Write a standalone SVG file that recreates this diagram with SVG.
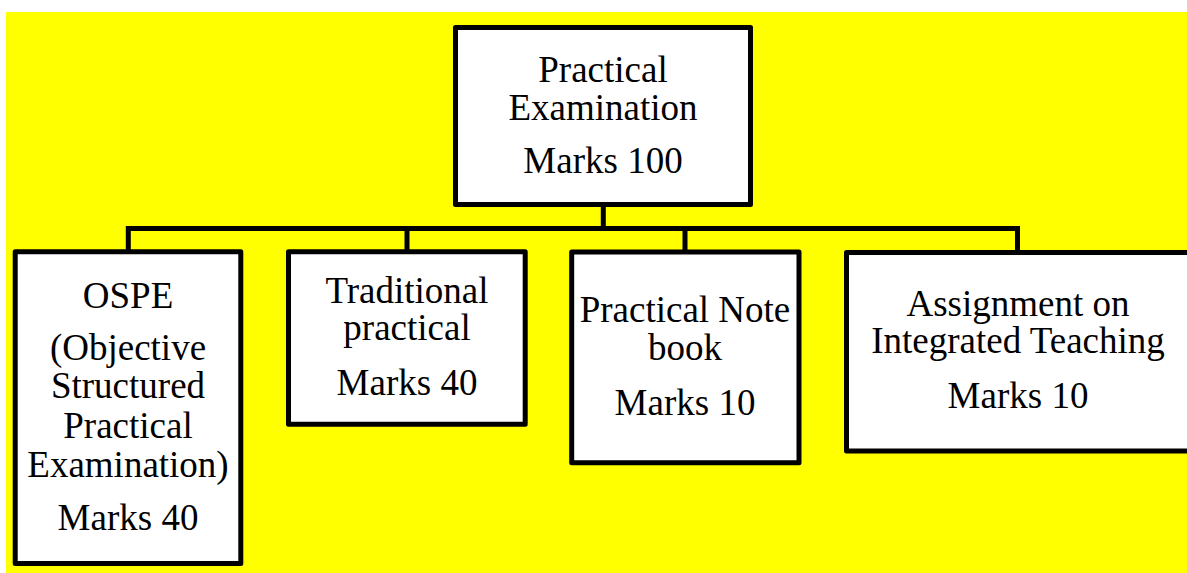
<svg xmlns="http://www.w3.org/2000/svg" width="1187" height="573" viewBox="0 0 1187 573">
<style>
.box{fill:#fff;stroke:#000;stroke-width:5;stroke-linejoin:round}
.conn{fill:none;stroke:#000;stroke-width:5;stroke-linejoin:miter}
.t{font-family:'Liberation Serif','Times New Roman',serif;font-size:37px;fill:#000;text-anchor:middle}
</style>
<rect x="6" y="12" width="1181" height="561" fill="#ffff00"/>
<g id="connectors">
<path class="conn" d="M603.3,206 V228.5"/>
<path class="conn" d="M128.3,251 V228.5 H1017.5 V251"/>
<path class="conn" d="M407,228.5 V251"/>
<path class="conn" d="M685,228.5 V251"/>
</g>
<g id="node-root" class="t">
<rect class="box" x="455.5" y="27.5" width="295" height="177"/>
<text x="603" y="82">Practical</text>
<text x="603" y="120">Examination</text>
<text x="603" y="173">Marks 100</text>
</g>
<g id="node-ospe" class="t">
<rect class="box" x="15.2" y="251.7" width="225.6" height="311.8"/>
<text x="128" y="308">OSPE</text>
<text x="128" y="360">(Objective</text>
<text x="128" y="398">Structured</text>
<text x="128" y="438">Practical</text>
<text x="128" y="477">Examination)</text>
<text x="128" y="530">Marks 40</text>
</g>
<g id="node-traditional" class="t">
<rect class="box" x="288.5" y="251.8" width="236.7" height="172.4"/>
<text x="407" y="303">Traditional</text>
<text x="407" y="340">practical</text>
<text x="407" y="395">Marks 40</text>
</g>
<g id="node-notebook" class="t">
<rect class="box" x="571.7" y="252" width="227.3" height="210.8"/>
<text x="685" y="322">Practical Note</text>
<text x="685" y="360">book</text>
<text x="685" y="415">Marks 10</text>
</g>
<g id="node-assignment" class="t">
<rect class="box" x="846.5" y="252.5" width="400" height="198.5"/>
<text x="1018" y="316">Assignment on</text>
<text x="1018" y="353">Integrated Teaching</text>
<text x="1018" y="408">Marks 10</text>
</g>
</svg>
